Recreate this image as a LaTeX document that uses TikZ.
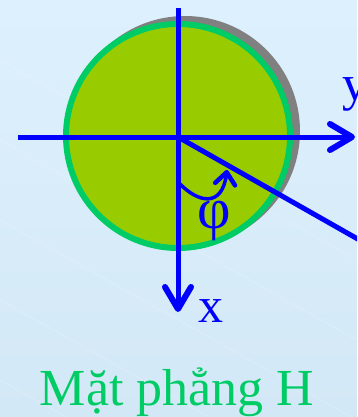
\documentclass[tikz,border=0pt]{standalone}
\usepackage{fontspec}
\setmainfont{Liberation Serif}
\usetikzlibrary{arrows.meta}
\definecolor{bgtop}{HTML}{DDF0FD}
\definecolor{bgbot}{HTML}{D3E8F6}
\definecolor{disk}{HTML}{99CC00}
\definecolor{rim}{HTML}{00CC66}
\definecolor{shadowc}{HTML}{808080}
\definecolor{axisc}{HTML}{0000FF}
\tikzset{
  axis/.style={draw=axisc, line width=5pt},
  barb/.style={-{Straight Barb[length=22pt,width=26pt,round,line width=6pt]}},
  smallbarb/.style={-{Straight Barb[length=12pt,width=20pt,round,line width=4.5pt]}},
  lbl/.style={text=axisc, inner sep=0pt, font=\fontsize{50}{56}\selectfont},
}
\begin{document}
\begin{tikzpicture}[x=1pt,y=-1pt]
\useasboundingbox (0,0) rectangle (357,417);
\shade[top color=bgtop, bottom color=bgbot] (0,0) rectangle (357,417);
\clip (0,0) rectangle (357,417);
\foreach \d in {60,140,220,300,380,460}
  \draw[white, opacity=0.25, line width=0.6pt] (0,\d) -- (357,\d+200);
\coordinate (O) at (178,137);
\coordinate (C) at (178,136);
\coordinate (S) at (185,131);
\fill[shadowc] (S) circle[radius=115];
\filldraw[fill=disk, draw=rim, line width=6pt] (C) circle[radius=112];
\coordinate (top) at (178,8);
\coordinate (xend) at (178,312);
\coordinate (left) at (18,137);
\coordinate (yend) at (355,137);
\coordinate (rend) at (400,263);
\draw[axis] (O) -- (rend);
\draw[axis] (left) -- (O);
\draw[axis, barb] (O) -- (yend);
\draw[axis] (top) -- (O);
\draw[axis, barb] (O) -- (xend);
\coordinate (a1) at (179,183);
\coordinate (a2) at (227,170);
\draw[draw=axisc, line width=3.5pt, smallbarb] (a1) .. controls (198,203) and (222,208) .. (a2);
\node[lbl, anchor=center, font=\fontsize{58}{64}\selectfont] (phi) at (214,221) {φ};
\node[lbl, anchor=base west] (xl) at (198,322) {x};
\node[lbl, anchor=base west] (yl) at (342,101) {y};
\node[text=rim, inner sep=0pt, anchor=base, font=\fontsize{52}{58}\selectfont] (title) at (177,405) {Mặt phẳng H};
\end{tikzpicture}
\end{document}
